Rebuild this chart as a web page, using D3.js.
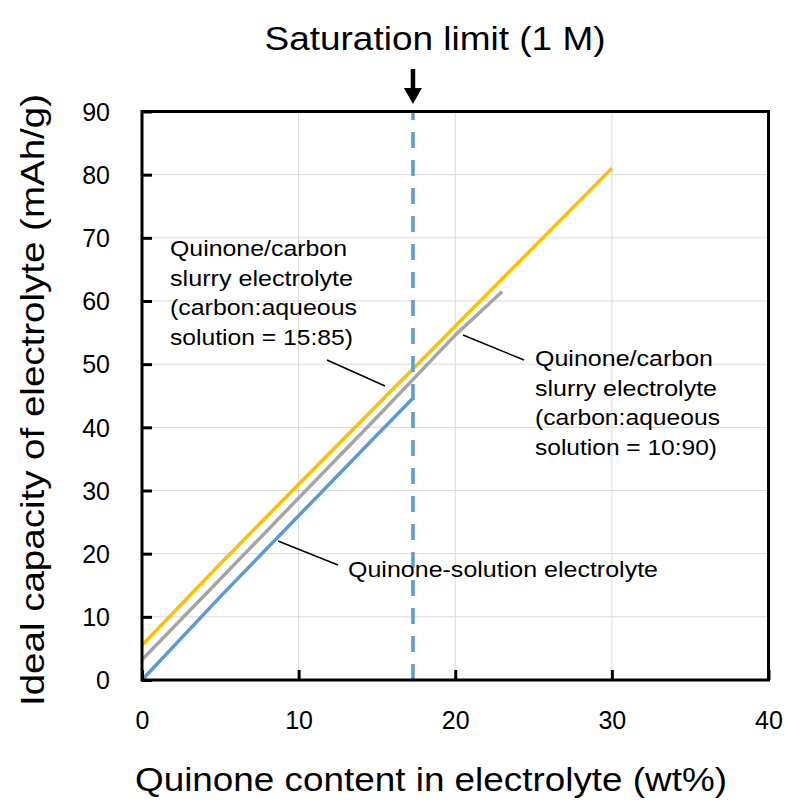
<!DOCTYPE html>
<html>
<head>
<meta charset="utf-8">
<script src="https://cdn.jsdelivr.net/npm/d3@7"></script>
<style>
  html, body { margin: 0; padding: 0; background: #fff; }
  svg { display: block; font-family: "Liberation Sans", Arial, sans-serif; }
</style>
</head>
<body>
<svg id="chart" width="787" height="804"></svg>
<script>
// ---- data ----
const xTicks = [0, 10, 20, 30, 40];
const yTicks = [0, 10, 20, 30, 40, 50, 60, 70, 80, 90];
const solutionX = [0, 5, 10, 15, 17.3];
const solutionY = [0, 13.2, 26.0, 38.8, 44.6];
const slurry1090X = [0, 5, 10, 15, 20, 23];
const slurry1090Y = [3.2, 16.0, 28.8, 41.6, 54.6, 61.5];
const slurry1585X = [0, 5, 10, 15, 20, 25, 30];
const slurry1585Y = [5.5, 18.4, 31.0, 43.5, 56.0, 68.5, 81.0];
const saturationX = 17.3;
const titleText = "Saturation limit (1 M)";
const xTitle = "Quinone content in electrolyte (wt%)";
const yTitle = "Ideal capacity of electrolyte (mAh/g)";
const label1585 = ["Quinone/carbon", "slurry electrolyte", "(carbon:aqueous", "solution = 15:85)"];
const label1090 = ["Quinone/carbon", "slurry electrolyte", "(carbon:aqueous", "solution = 10:90)"];
const labelSolution = "Quinone-solution electrolyte";

// ---- layout ----
const svg = d3.select("#chart");
const L = 142, R = 768.5, T = 111.5, B = 680;
const x = d3.scaleLinear().domain([0, 40]).range([L, R]);
const y = d3.scaleLinear().domain([0, 90]).range([B, T]);

// gridlines
svg.append("g").selectAll("line.h").data(yTicks.slice(1, -1)).join("line")
  .attr("x1", L).attr("x2", R).attr("y1", d => y(d)).attr("y2", d => y(d))
  .attr("stroke", "#d9d9d9").attr("stroke-width", 1);
svg.append("g").selectAll("line.v").data(xTicks.slice(1, -1)).join("line")
  .attr("y1", T).attr("y2", B).attr("x1", d => x(d)).attr("x2", d => x(d))
  .attr("stroke", "#d9d9d9").attr("stroke-width", 1);

// series
const line = d3.line().x(d => x(d[0])).y(d => y(d[1]));
const series = [
  { xs: solutionX, ys: solutionY, color: "#5b9bd5" },
  { xs: slurry1090X, ys: slurry1090Y, color: "#a5a5a5" },
  { xs: slurry1585X, ys: slurry1585Y, color: "#ffc000" }
];
series.forEach(s => {
  svg.append("path").datum(s.xs.map((v, i) => [v, s.ys[i]]))
    .attr("d", line).attr("fill", "none").attr("stroke", s.color)
    .attr("stroke-width", 3.5).attr("stroke-linejoin", "round");
});

// saturation dashed line
svg.append("line").attr("x1", x(saturationX)).attr("x2", x(saturationX))
  .attr("y1", y(0)).attr("y2", y(90))
  .attr("stroke", "#5b9bd5").attr("stroke-width", 3.5).attr("stroke-dasharray", "16,12");

// axes with inward ticks
const xAxis = d3.axisBottom(x).tickValues(xTicks).tickSize(-10).tickPadding(31).tickFormat(d3.format("d"));
const yAxis = d3.axisLeft(y).tickValues(yTicks).tickSize(-10).tickPadding(32).tickFormat(d3.format("d"));
const gx = svg.append("g").attr("transform", `translate(0,${B})`).call(xAxis);
const gy = svg.append("g").attr("transform", `translate(${L},0)`).call(yAxis);
[gx, gy].forEach(g => {
  g.select(".domain").remove();
  g.selectAll(".tick line").attr("stroke", "#000").attr("stroke-width", 3);
  g.selectAll(".tick text").attr("fill", "#000").attr("font-size", 25)
    .attr("font-family", "Liberation Sans, Arial, sans-serif");
});
gy.selectAll(".tick text").attr("dy", "0.35em");

// frame
svg.append("rect").attr("x", L).attr("y", T).attr("width", R - L).attr("height", B - T)
  .attr("fill", "none").attr("stroke", "#000").attr("stroke-width", 3);

// arrow
const ax = x(saturationX);
svg.append("line").attr("x1", ax).attr("x2", ax).attr("y1", 69).attr("y2", 90)
  .attr("stroke", "#000").attr("stroke-width", 4.5);
svg.append("path").attr("d", `M${ax - 9},88 L${ax + 9},88 L${ax},104 Z`).attr("fill", "#000");

// titles
function txt(t, px, py, size, len, anchor) {
  const e = svg.append("text").attr("x", px).attr("y", py).attr("font-size", size)
    .attr("fill", "#000").attr("text-anchor", anchor || "start").text(t);
  if (len) e.attr("textLength", len).attr("lengthAdjust", "spacingAndGlyphs");
  return e;
}
txt(titleText, 435, 50, 34, 341, "middle");
txt(xTitle, 431, 791, 34, 592, "middle");
svg.append("text").attr("transform", "translate(44,400) rotate(-90)")
  .attr("font-size", 34).attr("text-anchor", "middle").attr("fill", "#000")
  .attr("textLength", 612).attr("lengthAdjust", "spacingAndGlyphs").text(yTitle);

// annotations
const lens1 = [177, 183, 187, 183];
label1585.forEach((t, i) => txt(t, 170, 256 + i * 29.7, 22.5, lens1[i]));
const lens2 = [178, 182, 185, 182];
label1090.forEach((t, i) => txt(t, 535, 366 + i * 29.7, 22.5, lens2[i]));
txt(labelSolution, 348, 577, 22.5, 310);

// leader lines
const leaders = [
  [327, 360, 385, 386],
  [463, 335, 524, 360],
  [278, 541, 338, 565]
];
svg.append("g").selectAll("line").data(leaders).join("line")
  .attr("x1", d => d[0]).attr("y1", d => d[1]).attr("x2", d => d[2]).attr("y2", d => d[3])
  .attr("stroke", "#000").attr("stroke-width", 1.5);
</script>
</body>
</html>
